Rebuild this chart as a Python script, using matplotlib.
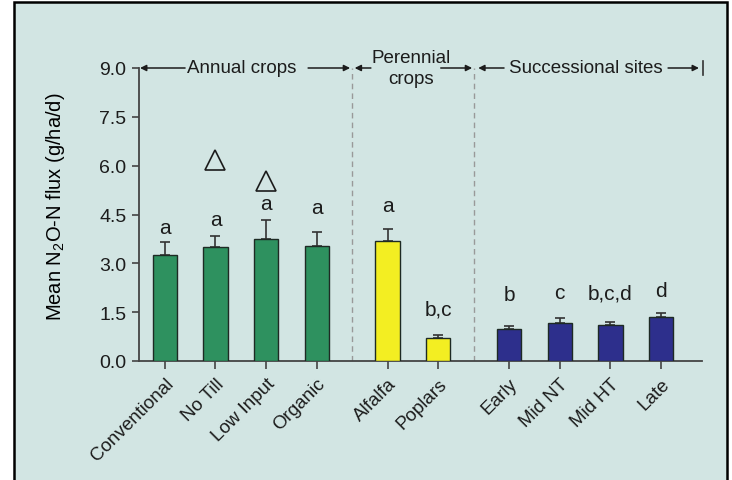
import matplotlib
matplotlib.use('Agg')
import matplotlib.pyplot as plt
from matplotlib.patches import Rectangle
import numpy as np

plt.rcParams['font.family'] = ['Liberation Sans', 'DejaVu Sans']
plt.rcParams['mathtext.fontset'] = 'custom'
plt.rcParams['mathtext.rm'] = 'Liberation Sans'
plt.rcParams['mathtext.default'] = 'regular'
plt.rcParams['text.color'] = '#1c1c1c'
plt.rcParams['xtick.labelcolor'] = '#1c1c1c'
plt.rcParams['ytick.labelcolor'] = '#1c1c1c'

# Données
sites = ['Conventional', 'No Till', 'Low Input', 'Organic', 'Alfalfa', 'Poplars',
         'Early', 'Mid NT', 'Mid HT', 'Late']
groupes = ['annual'] * 4 + ['perennial'] * 2 + ['successional'] * 4
flux = [3.26, 3.51, 3.76, 3.54, 3.70, 0.71, 0.98, 1.18, 1.11, 1.36]
erreur = [0.39, 0.33, 0.56, 0.41, 0.35, 0.08, 0.10, 0.13, 0.08, 0.11]
lettres = ['a', 'a', 'a', 'a', 'a', 'b,c', 'b', 'c', 'b,c,d', 'd']
hauteur_lettres = [4.10, 4.36, 4.85, 4.70, 4.77, 1.60, 2.03, 2.10, 2.08, 2.16]
triangles = {'No Till': 6.18, 'Low Input': 5.54}

couleurs = {'annual': '#2e915f', 'perennial': '#f3ee22', 'successional': '#2d2f8c'}
fond = '#d2e5e3'

# positions avec un écart entre les groupes
pos = []
x = 0.0
for i, g in enumerate(groupes):
    if i > 0 and g != groupes[i - 1]:
        x += 0.4
    pos.append(x)
    x += 1.0
pos = np.array(pos)

fig = plt.figure(figsize=(7.32, 4.81), dpi=100)
fig.patch.set_facecolor('white')
cadre = Rectangle((14 / 732, -0.01), 713 / 732, 1 - 3 / 481 + 0.01,
                  transform=fig.transFigure, facecolor=fond,
                  edgecolor='black', linewidth=1.8, zorder=-10)
fig.add_artist(cadre)

ax = fig.add_axes([139 / 732, 1 - 362 / 481, 563 / 732, 293 / 481])
ax.set_facecolor('none')
ax.set_zorder(5)

ax.bar(pos, flux, width=0.48, color=[couleurs[g] for g in groupes],
       edgecolor='#1e2a24', linewidth=1.0, zorder=3)
ax.errorbar(pos, flux, yerr=[np.zeros(len(flux)), erreur], fmt='none',
            ecolor='#333333', elinewidth=1.2, capsize=3.5, capthick=1.2, zorder=2)

for xi, txt, yi in zip(pos, lettres, hauteur_lettres):
    ax.text(xi, yi, txt, ha='center', va='center', fontsize=15)

for nom, yv in triangles.items():
    xi = pos[sites.index(nom)]
    ax.plot(xi, yv, marker='^', markersize=14, markerfacecolor='none',
            markeredgecolor='#1c1c1c', markeredgewidth=1.2, clip_on=False)

ax.set_xlim(-0.51, 10.61)
ax.set_ylim(0, 9)
ax.set_yticks(np.arange(0, 9.1, 1.5))
ax.set_yticklabels(['%.1f' % v for v in np.arange(0, 9.1, 1.5)], fontsize=14)
ax.set_xticks(pos)
ax.set_xticklabels(sites, rotation=45, ha='right', rotation_mode='anchor', fontsize=13.5)
ax.tick_params(axis='y', length=5, width=1.2, color='#444444', pad=4)
ax.tick_params(axis='x', length=6, width=1.2, color='#444444', pad=4)

for s in ['top', 'right']:
    ax.spines[s].set_visible(False)
for s in ['left', 'bottom']:
    ax.spines[s].set_color('#444444')
    ax.spines[s].set_linewidth(1.3)

ax.set_ylabel('Mean N$_2$O-N flux (g/ha/d)', fontsize=14.5)
ax.yaxis.set_label_coords(-0.128, 0.53)

# séparateurs pointillés entre les groupes
sep1 = (pos[3] + pos[4]) / 2
sep2 = (pos[5] + pos[6]) / 2
for s in [sep1, sep2]:
    ax.plot([s, s], [0, 9], ls=(0, (4, 3)), color='#999999', lw=1.0, zorder=1)

# flèches des groupes en haut
def fleche(x_tail, x_head):
    ax.annotate('', xy=(x_head, 9), xytext=(x_tail, 9), annotation_clip=False,
                arrowprops=dict(arrowstyle='-|>', color='#1c1c1c', lw=1.1,
                                mutation_scale=9, shrinkA=0, shrinkB=0))

fleche(0.40, -0.49)
fleche(2.83, 3.66)
fleche(4.07, 3.75)
fleche(5.45, 6.07)
fleche(6.70, 6.19)
fleche(9.94, 10.55)
ax.plot([10.63, 10.63], [8.78, 9.22], color='#333333', lw=1.2, clip_on=False)

ax.text(1.52, 9.0, 'Annual crops', ha='center', va='center', fontsize=13.5)
ax.text(4.86, 9.0, 'Perennial\ncrops', ha='center', va='center', fontsize=13.5,
        linespacing=1.25)
ax.text(8.32, 9.0, 'Successional sites', ha='center', va='center', fontsize=13.5)

plt.savefig('out.png', dpi=100, facecolor=fig.get_facecolor())
plt.close()
